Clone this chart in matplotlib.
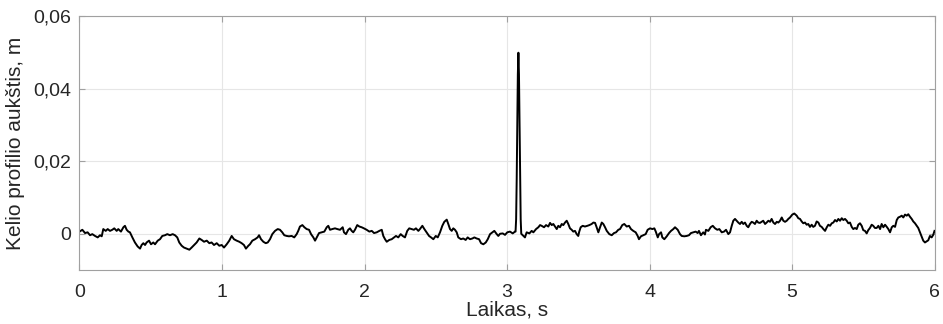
import matplotlib
matplotlib.use("Agg")
import matplotlib.pyplot as plt
from matplotlib.ticker import FixedLocator, FixedFormatter

# Road profile height over time
time_s = [
    0.000, 0.020, 0.039, 0.057, 0.074, 0.090, 0.109, 0.128, 0.144, 0.156,
    0.167, 0.184, 0.198, 0.214, 0.230, 0.244, 0.261, 0.272, 0.291, 0.308,
    0.319, 0.331, 0.343, 0.354, 0.371, 0.389, 0.408, 0.425, 0.436, 0.448,
    0.460, 0.471, 0.488, 0.502, 0.518, 0.530, 0.549, 0.565, 0.581, 0.600,
    0.616, 0.635, 0.654, 0.670, 0.686, 0.700, 0.717, 0.733, 0.752, 0.771,
    0.787, 0.804, 0.822, 0.841, 0.857, 0.874, 0.893, 0.911, 0.927, 0.944,
    0.963, 0.981, 0.998, 1.014, 1.033, 1.051, 1.068, 1.084, 1.103, 1.121,
    1.138, 1.154, 1.168, 1.185, 1.196,
    1.213, 1.232, 1.250, 1.260, 1.274, 1.290, 1.307, 1.321, 1.337, 1.353,
    1.372, 1.391, 1.407, 1.423, 1.437, 1.454, 1.470, 1.489, 1.507, 1.524,
    1.535, 1.547, 1.564, 1.578, 1.594, 1.611, 1.625, 1.641, 1.653, 1.665,
    1.681, 1.700, 1.718, 1.735, 1.746, 1.758, 1.774, 1.793,
    1.809, 1.828, 1.847, 1.856, 1.870, 1.886, 1.898, 1.910, 1.921, 1.933,
    1.949, 1.964, 1.980, 1.996, 2.015, 2.034, 2.051, 2.067, 2.086, 2.104,
    2.121, 2.132, 2.144, 2.156, 2.174, 2.191, 2.207, 2.221, 2.237, 2.254,
    2.268, 2.284, 2.300, 2.314, 2.331, 2.347, 2.361, 2.378, 2.389,
    2.406, 2.420, 2.436, 2.453, 2.467, 2.483, 2.500, 2.514, 2.530, 2.546,
    2.560, 2.577, 2.588, 2.600, 2.612, 2.623, 2.635, 2.647, 2.658, 2.677,
    2.693, 2.710, 2.724, 2.740, 2.757, 2.771, 2.787, 2.804, 2.818, 2.834,
    2.851, 2.865, 2.881, 2.897, 2.911, 2.928, 2.939, 2.951, 2.970, 2.986,
    3.002, 3.021, 3.040, 3.056,
    3.060, 3.064, 3.068, 3.072, 3.076, 3.080, 3.084, 3.088, 3.092, 3.096,
    3.100,
    3.115, 3.126, 3.138, 3.157, 3.173, 3.185, 3.204, 3.220, 3.232,
    3.243, 3.260, 3.274, 3.290, 3.302, 3.314, 3.325, 3.337, 3.349, 3.360,
    3.372, 3.384, 3.395, 3.407, 3.419, 3.430, 3.442, 3.454, 3.465, 3.477,
    3.489, 3.500, 3.507, 3.517, 3.531, 3.547, 3.564, 3.578, 3.594, 3.606,
    3.618, 3.629, 3.641, 3.653, 3.665, 3.676, 3.688, 3.700, 3.718, 3.735,
    3.751, 3.765, 3.781, 3.793,
    3.809, 3.823, 3.840, 3.856, 3.870, 3.886, 3.903, 3.917, 3.926, 3.940,
    3.956, 3.973, 3.987, 4.004, 4.020, 4.034, 4.044, 4.058, 4.067, 4.081,
    4.090, 4.104, 4.121, 4.137, 4.151, 4.167, 4.179, 4.198, 4.214, 4.226,
    4.244, 4.261, 4.277, 4.291, 4.307, 4.324, 4.338, 4.347, 4.361, 4.377,
    4.389,
    4.396, 4.413, 4.429, 4.444, 4.460, 4.476, 4.490, 4.507, 4.523, 4.537,
    4.553, 4.565, 4.577, 4.588, 4.600, 4.612, 4.623, 4.635, 4.647, 4.658,
    4.670, 4.682, 4.693, 4.705, 4.717, 4.728, 4.740, 4.752, 4.763, 4.775,
    4.787, 4.798, 4.811, 4.822, 4.834, 4.846, 4.857, 4.869, 4.881, 4.893,
    4.904, 4.916, 4.928, 4.939, 4.951, 4.963, 4.974, 4.986,
    5.002, 5.016, 5.033, 5.044, 5.056, 5.068, 5.079, 5.091, 5.103, 5.114,
    5.126, 5.138, 5.149, 5.161, 5.173, 5.185, 5.196, 5.208, 5.220, 5.232,
    5.244, 5.255, 5.267, 5.279, 5.290, 5.302, 5.314, 5.325, 5.337, 5.349,
    5.360, 5.372, 5.384, 5.395, 5.407, 5.419, 5.430, 5.442, 5.454, 5.465,
    5.477, 5.489, 5.500, 5.512, 5.524, 5.535, 5.547, 5.559, 5.570, 5.582,
    5.594, 5.606, 5.618, 5.629, 5.641, 5.653, 5.665, 5.676, 5.688, 5.700,
    5.711, 5.723, 5.735, 5.746, 5.758, 5.770, 5.781, 5.793, 5.805, 5.816,
    5.828, 5.840, 5.851, 5.863, 5.875, 5.886, 5.898, 5.910, 5.921, 5.933,
    5.944, 5.956, 5.968, 5.980, 5.991, 6.000,
]

height_m = [
    0.0006, 0.0011, 0.0002, 0.0004, -0.0004, -0.0001, -0.0006, -0.0010, -0.0004, -0.0007,
    0.0013, 0.0008, 0.0013, 0.0008, 0.0011, 0.0015, 0.0008, 0.0013, 0.0006, 0.0018,
    0.0022, 0.0011, 0.0006, 0.0004, -0.0010, -0.0024, -0.0035, -0.0041, -0.0031, -0.0026,
    -0.0031, -0.0024, -0.0019, -0.0029, -0.0024, -0.0029, -0.0019, -0.0015, -0.0006, -0.0004,
    -0.0001, -0.0004, -0.0001, -0.0004, -0.0010, -0.0024, -0.0033, -0.0038, -0.0041, -0.0044,
    -0.0038, -0.0031, -0.0024, -0.0013, -0.0017, -0.0022, -0.0019, -0.0026, -0.0024, -0.0031,
    -0.0026, -0.0033, -0.0031, -0.0038, -0.0029, -0.0019, -0.0006, -0.0015, -0.0019, -0.0022,
    -0.0026, -0.0031, -0.0041, -0.0033, -0.0029,
    -0.0019, -0.0015, -0.0010, -0.0004, -0.0015, -0.0022, -0.0026, -0.0024, -0.0015, -0.0001,
    0.0008, 0.0013, 0.0011, 0.0004, -0.0004, -0.0006, -0.0007, -0.0006, -0.0010, -0.0001,
    0.0008, 0.0020, 0.0024, 0.0018, 0.0013, 0.0011, -0.0001, -0.0010, -0.0019, -0.0010,
    0.0002, 0.0004, 0.0006, 0.0018, 0.0022, 0.0011, 0.0013, 0.0015,
    0.0013, 0.0011, 0.0018, 0.0004, -0.0001, 0.0011, 0.0015, 0.0008, 0.0004, 0.0011,
    0.0024, 0.0020, 0.0018, 0.0015, 0.0011, 0.0006, 0.0008, 0.0002, 0.0004, 0.0008,
    0.0011, -0.0006, -0.0015, -0.0022, -0.0017, -0.0015, -0.0010, -0.0006, -0.0010, -0.0001,
    -0.0006, -0.0010, 0.0008, 0.0015, 0.0013, 0.0011, 0.0015, 0.0008, 0.0013,
    0.0022, 0.0013, 0.0004, -0.0006, -0.0010, -0.0015, -0.0006, -0.0010, 0.0004, 0.0022,
    0.0033, 0.0039, 0.0027, 0.0013, 0.0008, 0.0015, 0.0011, 0.0004, -0.0010, -0.0015,
    -0.0013, -0.0017, -0.0010, -0.0015, -0.0013, -0.0010, -0.0013, -0.0015, -0.0026, -0.0029,
    -0.0024, -0.0015, -0.0001, 0.0004, 0.0008, -0.0001, -0.0006, 0.0000, 0.0001, -0.0003,
    0.0004, 0.0006, 0.0001, 0.0006,
    0.0006, 0.0040, 0.0150, 0.0300, 0.0440, 0.0500, 0.0440, 0.0300, 0.0150, 0.0040,
    0.0000,
    -0.0006, -0.0010, 0.0004, 0.0001, 0.0008, 0.0004, 0.0013, 0.0018, 0.0024,
    0.0022, 0.0018, 0.0024, 0.0020, 0.0030, 0.0024, 0.0027, 0.0020, 0.0013, 0.0022,
    0.0018, 0.0027, 0.0024, 0.0031, 0.0036, 0.0027, 0.0015, 0.0011, 0.0006, 0.0008,
    -0.0001, -0.0006, 0.0006, 0.0018, 0.0022, 0.0020, 0.0022, 0.0024, 0.0027, 0.0031,
    0.0030, 0.0018, 0.0004, 0.0018, 0.0031, 0.0027, 0.0018, 0.0008, -0.0001, -0.0004,
    0.0002, 0.0004, 0.0011, 0.0013,
    0.0024, 0.0027, 0.0020, 0.0022, 0.0013, 0.0008, 0.0004, -0.0006, -0.0015, -0.0007,
    -0.0004, -0.0001, 0.0011, 0.0015, 0.0013, 0.0015, 0.0006, -0.0010, -0.0001, 0.0004,
    -0.0010, -0.0015, -0.0007, 0.0002, 0.0008, 0.0013, 0.0018, 0.0011, -0.0001, -0.0006,
    -0.0007, -0.0006, -0.0004, 0.0002, 0.0004, 0.0006, 0.0002, 0.0008, -0.0004, 0.0004,
    -0.0002,
    0.0011, 0.0008, 0.0018, 0.0022, 0.0015, 0.0011, 0.0013, 0.0004, 0.0006, 0.0011,
    -0.0001, 0.0004, 0.0022, 0.0036, 0.0041, 0.0036, 0.0031, 0.0027, 0.0033, 0.0027,
    0.0031, 0.0022, 0.0018, 0.0027, 0.0033, 0.0031, 0.0027, 0.0036, 0.0031, 0.0030,
    0.0033, 0.0036, 0.0027, 0.0031, 0.0036, 0.0033, 0.0041, 0.0031, 0.0027, 0.0033,
    0.0031, 0.0036, 0.0045, 0.0036, 0.0033, 0.0036, 0.0041, 0.0045,
    0.0053, 0.0056, 0.0050, 0.0043, 0.0041, 0.0034, 0.0029, 0.0031, 0.0025, 0.0027,
    0.0019, 0.0025, 0.0019, 0.0022, 0.0034, 0.0031, 0.0022, 0.0019, 0.0013, 0.0008,
    0.0018, 0.0025, 0.0022, 0.0029, 0.0031, 0.0038, 0.0034, 0.0041, 0.0036, 0.0043,
    0.0038, 0.0041, 0.0036, 0.0029, 0.0031, 0.0019, 0.0013, 0.0016, 0.0013, 0.0025,
    0.0029, 0.0022, 0.0010, 0.0008, 0.0001, 0.0010, 0.0016, 0.0025, 0.0022, 0.0016,
    0.0016, 0.0022, 0.0013, 0.0027, 0.0018, 0.0025, 0.0019, 0.0013, 0.0004, 0.0018,
    0.0022, 0.0019, 0.0038, 0.0045, 0.0047, 0.0050, 0.0045, 0.0053, 0.0050, 0.0054,
    0.0047, 0.0041, 0.0034, 0.0029, 0.0022, 0.0016, 0.0004, -0.0008, -0.0019, -0.0024,
    -0.0021, -0.0018, -0.0006, -0.0010, -0.0003, 0.0008,
]

x_ticks = [0, 1, 2, 3, 4, 5, 6]
x_tick_labels = ["0", "1", "2", "3", "4", "5", "6"]
y_ticks = [0.0, 0.02, 0.04, 0.06]
y_tick_labels = ["0", "0,02", "0,04", "0,06"]

plt.rcParams["font.family"] = ["Liberation Sans", "DejaVu Sans"]

fig = plt.figure(figsize=(9.43, 3.24), dpi=100)
ax = fig.add_axes([0.0843, 0.1667, 0.9067, 0.7824])

ax.plot(time_s, height_m, color="black", linewidth=1.4, solid_joinstyle="round")

ax.set_xlim(0, 6)
ax.set_ylim(-0.01, 0.06)
ax.xaxis.set_major_locator(FixedLocator(x_ticks))
ax.xaxis.set_major_formatter(FixedFormatter(x_tick_labels))
ax.yaxis.set_major_locator(FixedLocator(y_ticks))
ax.yaxis.set_major_formatter(FixedFormatter(y_tick_labels))

ax.grid(True, color="#e6e6e6", linewidth=0.8)
ax.set_axisbelow(True)
for side in ["left", "bottom", "top", "right"]:
    ax.spines[side].set_color("#a0a0a0")
    ax.spines[side].set_linewidth(0.8)
ax.tick_params(direction="in", length=4, width=0.8, color="#a0a0a0",
               labelsize=14, labelcolor="#262626", top=True, right=True)
ax.tick_params(axis="x", pad=10)
ax.tick_params(axis="y", pad=6)

ax.set_xlabel("Laikas, s", fontsize=15, color="#262626", labelpad=0)
ax.set_ylabel("Kelio profilio aukštis, m", fontsize=15, color="#262626", labelpad=6)

fig.savefig("out.png", dpi=100)
